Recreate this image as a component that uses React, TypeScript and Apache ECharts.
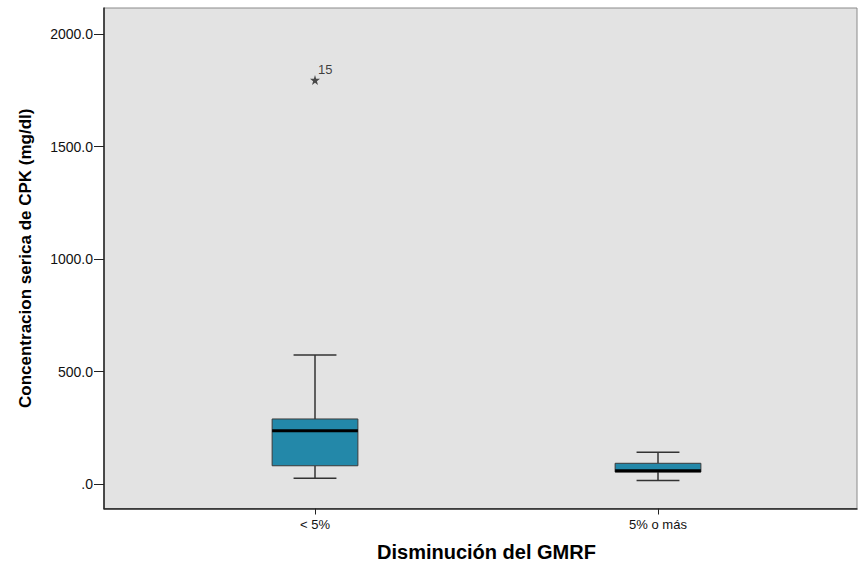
import React, { useEffect, useRef } from 'react';
import * as echarts from 'echarts';

const categories = ['< 5%', '5% o más'];
// box statistics per category
const boxLow = [25, 15];
const boxQ1 = [81, 53];
const boxMedian = [237, 59];
const boxQ3 = [289, 92];
const boxHigh = [573, 141];
// extreme outliers
const outlierCategory = [0];
const outlierValues = [1796];
const outlierLabels = ['15'];
// y axis ticks
const yTickValues = [0, 500, 1000, 1500, 2000];
const yTickLabels = ['.0', '500.0', '1000.0', '1500.0', '2000.0'];
const yMin = -109;
const yMax = 2116;

const FONT = "'Liberation Sans', Arial, sans-serif";
const STAR = 'path://M50,0 L61,35 L98,35 L68,57 L79,91 L50,70 L21,91 L32,57 L2,35 L39,35 Z';

export default function App() {
  const ref = useRef<HTMLDivElement>(null);

  useEffect(() => {
    if (!ref.current) return;
    const chart = echarts.init(ref.current, undefined, { renderer: 'svg' });

    const boxData = categories.map((_, i) => [
      i,
      boxLow[i],
      boxQ1[i],
      boxMedian[i],
      boxQ3[i],
      boxHigh[i],
    ]);

    const option: any = {
      animation: false,
      textStyle: { fontFamily: FONT },
      grid: [
        {
          left: 104,
          right: 1,
          top: 8,
          bottom: 56.5,
          show: true,
          backgroundColor: '#e3e3e3',
          borderColor: '#8a8a8a',
          borderWidth: 1,
          containLabel: false,
          outerBoundsMode: 'none',
        },
        {
          left: 143.5,
          right: 28.5,
          top: 8,
          bottom: 56.5,
          containLabel: false,
          outerBoundsMode: 'none',
        },
      ],
      xAxis: [
        {
          gridIndex: 0,
          type: 'value',
          min: 0,
          max: 1,
          axisLine: { show: true, onZero: false, lineStyle: { color: '#222', width: 1.5 } },
          axisTick: { show: false },
          axisLabel: { show: false },
          splitLine: { show: false },
        },
        {
          gridIndex: 1,
          type: 'category',
          data: categories,
          position: 'bottom',
          axisLine: { show: false, onZero: false },
          axisTick: { show: true, alignWithLabel: true, length: 6, lineStyle: { color: '#222', width: 1 } },
          axisLabel: { margin: 9, fontSize: 13, color: '#111', fontFamily: FONT },
          splitLine: { show: false },
          name: 'Disminución del GMRF',
          nameLocation: 'middle',
          nameGap: 33,
          nameTextStyle: { fontSize: 20, fontWeight: 'bold', color: '#000', fontFamily: FONT },
        },
      ],
      yAxis: [
        {
          gridIndex: 0,
          type: 'value',
          min: yMin,
          max: yMax,
          axisLine: { show: true, onZero: false, lineStyle: { color: '#222', width: 1.5 } },
          axisTick: { show: true, length: 10, customValues: yTickValues, lineStyle: { color: '#222', width: 1 } },
          axisLabel: {
            customValues: yTickValues,
            formatter: (v: number) => {
              const k = yTickValues.indexOf(v);
              return k >= 0 ? yTickLabels[k] : '';
            },
            margin: 11,
            fontSize: 14,
            color: '#111',
            fontFamily: FONT,
          },
          splitLine: { show: false },
          name: 'Concentracion serica de CPK (mg/dl)',
          nameLocation: 'middle',
          nameGap: 70,
          nameTextStyle: { fontSize: 17, fontWeight: 'bold', color: '#000', fontFamily: FONT },
        },
        { gridIndex: 1, type: 'value', min: yMin, max: yMax, show: false },
      ],
      series: [
        {
          type: 'custom',
          xAxisIndex: 1,
          yAxisIndex: 1,
          data: boxData,
          encode: { x: 0, y: [1, 2, 3, 4, 5] },
          renderItem: (params: any, api: any) => {
            const idx = api.value(0);
            const pLow = api.coord([idx, api.value(1)]);
            const pQ1 = api.coord([idx, api.value(2)]);
            const pMed = api.coord([idx, api.value(3)]);
            const pQ3 = api.coord([idx, api.value(4)]);
            const pHigh = api.coord([idx, api.value(5)]);
            const band = api.size([1, 0])[0];
            const bw = band * 0.25;
            const cw = bw / 2;
            const x = pMed[0];
            const wStyle = { stroke: '#333', lineWidth: 1.5 };
            return {
              type: 'group',
              children: [
                { type: 'line', shape: { x1: x, y1: pHigh[1], x2: x, y2: pQ3[1] }, style: wStyle },
                { type: 'line', shape: { x1: x, y1: pQ1[1], x2: x, y2: pLow[1] }, style: wStyle },
                { type: 'line', shape: { x1: x - cw / 2, y1: pHigh[1], x2: x + cw / 2, y2: pHigh[1] }, style: wStyle },
                { type: 'line', shape: { x1: x - cw / 2, y1: pLow[1], x2: x + cw / 2, y2: pLow[1] }, style: wStyle },
                {
                  type: 'rect',
                  shape: { x: x - bw / 2, y: pQ3[1], width: bw, height: pQ1[1] - pQ3[1] },
                  style: { fill: '#2388a9', stroke: '#3a3a3a', lineWidth: 1 },
                },
                {
                  type: 'line',
                  shape: { x1: x - bw / 2, y1: pMed[1], x2: x + bw / 2, y2: pMed[1] },
                  style: { stroke: '#000', lineWidth: 3 },
                },
              ],
            };
          },
        },
        {
          type: 'scatter',
          xAxisIndex: 1,
          yAxisIndex: 1,
          symbol: STAR,
          symbolSize: 10,
          itemStyle: { color: '#222' },
          data: outlierValues.map((v, i) => ({
            value: [outlierCategory[i], v],
            label: {
              show: true,
              formatter: outlierLabels[i],
              position: [8, -5],
              align: 'left',
              verticalAlign: 'middle',
              fontSize: 13,
              color: '#111',
              fontFamily: FONT,
            },
          })),
        },
      ],
    };

    chart.setOption(option);
    return () => chart.dispose();
  }, []);

  return (
    <div
      ref={ref}
      style={{ position: 'fixed', left: 0, top: 0, width: 858, height: 565, background: '#fff' }}
    />
  );
}
